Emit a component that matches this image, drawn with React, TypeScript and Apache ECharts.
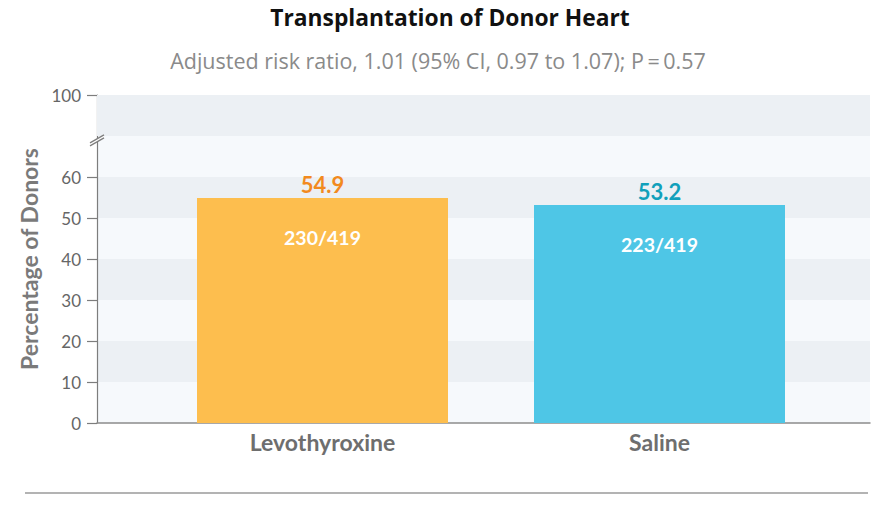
import React, { useEffect, useRef } from "react";
import * as echarts from "echarts";

const categories = ["Levothyroxine", "Saline"];
const percentages = [54.9, 53.2];
const counts = ["230/419", "223/419"];
const barColors = ["#fdbe4e", "#4ec6e6"];
const valueColors = ["#f28a1e", "#11a0bb"];
const tickValues = [0, 10, 20, 30, 40, 50, 60, 80];
const tickLabels: Record<number, string> = { 0: "0", 10: "10", 20: "20", 30: "30", 40: "40", 50: "50", 60: "60", 80: "100" };
const titleText = "Transplantation of Donor Heart";
const subtitleText = "Adjusted risk ratio, 1.01 (95% CI, 0.97 to 1.07); P\u2009=\u20090.57";
const yAxisName = "Percentage of Donors";

const FONT = "Lato, 'Open Sans', sans-serif";
const FONT2 = "'Open Sans', Lato, sans-serif";

export default function App() {
  const ref = useRef<HTMLDivElement>(null);
  useEffect(() => {
    document.body.style.margin = "0";
    if (!ref.current) return;
    const chart = echarts.init(ref.current, undefined, { renderer: "svg" });
    const option: any = {
      animation: false,
      backgroundColor: "#ffffff",
      title: [
        {
          text: titleText,
          left: 445,
          top: 1,
          textAlign: "center",
          textStyle: { fontFamily: FONT2, fontSize: 22.8, fontWeight: "bold", color: "#111" },
        },
        {
          text: subtitleText,
          left: 433,
          top: 44,
          textAlign: "center",
          textStyle: { fontFamily: FONT2, fontSize: 21.5, fontWeight: "normal", color: "#8a8a8a" },
        },
      ],
      grid: [
        { left: 97, right: 22, top: 95, bottom: 83 },
        { left: 154, right: 64, top: 95, bottom: 83 },
      ],
      xAxis: [
        {
          gridIndex: 0,
          type: "category",
          data: ["", ""],
          axisLine: { show: true, lineStyle: { color: "#8c8c8c", width: 1.5 } },
          axisTick: { show: false },
          axisLabel: { show: false },
        },
        {
          gridIndex: 1,
          type: "category",
          data: categories,
          axisLine: { show: false },
          axisTick: { show: false },
          axisLabel: {
            margin: 7,
            fontFamily: FONT,
            fontSize: 23,
            fontWeight: "bold",
            color: "#6e6e6e",
          },
        },
      ],
      yAxis: [
        {
          gridIndex: 0,
          type: "value",
          min: 0,
          max: 80,
          interval: 10,
          name: yAxisName,
          nameLocation: "middle",
          nameGap: 46,
          nameTextStyle: { fontFamily: FONT, fontSize: 23, fontWeight: "bold", color: "#7a7a7a" },
          axisLine: { show: true, lineStyle: { color: "#7d7d7d", width: 1.2 } },
          axisTick: { show: true, length: 10, customValues: tickValues, lineStyle: { color: "#7d7d7d", width: 1.2 } },
          axisLabel: {
            customValues: tickValues,
            margin: 16,
            fontFamily: FONT,
            fontSize: 17,
            color: "#666",
            formatter: (v: number) => tickLabels[v] ?? "",
          },
          splitLine: { show: false },
          splitArea: { show: true, areaStyle: { color: ["#f6f9fc", "#ecf0f4"] } },
        },
        {
          gridIndex: 1,
          type: "value",
          min: 0,
          max: 80,
          show: false,
          splitLine: { show: false },
        },
      ],
      series: [
        {
          type: "line",
          xAxisIndex: 0,
          yAxisIndex: 0,
          data: [null, null],
          showSymbol: false,
          silent: true,
          lineStyle: { opacity: 0 },
          markArea: {
            silent: true,
            itemStyle: { color: "#ecf0f4" },
            data: [[{ yAxis: 70 }, { yAxis: 80 }]],
          },
        },
        {
          type: "bar",
          xAxisIndex: 1,
          yAxisIndex: 1,
          barWidth: 251,
          data: percentages.map((v, i) => ({
            value: v,
            itemStyle: { color: barColors[i] },
            label: { color: valueColors[i] },
          })),
          label: {
            show: true,
            position: "top",
            distance: 2,
            fontFamily: FONT,
            fontSize: 22,
            fontWeight: "bold",
            formatter: (p: any) => p.value.toFixed(1),
          },
        },
        {
          type: "bar",
          xAxisIndex: 1,
          yAxisIndex: 1,
          barWidth: 251,
          barGap: "-100%",
          silent: true,
          itemStyle: { color: "rgba(0,0,0,0)" },
          data: percentages,
          label: {
            show: true,
            position: "insideTop",
            distance: 30,
            fontFamily: FONT,
            fontSize: 19.5,
            fontWeight: "bold",
            color: "#ffffff",
            formatter: (p: any) => counts[p.dataIndex],
          },
        },
      ],
    };
    chart.setOption(option);

    const yb = chart.convertToPixel({ yAxisIndex: 0 }, 69.3) as number;
    const ax = 97;
    chart.setOption({
      graphic: [
        {
          type: "polygon",
          shape: { points: [[ax - 7, yb + 4], [ax + 7, yb - 4], [ax + 7, yb - 1], [ax - 7, yb + 7]] },
          style: { fill: "#ffffff" },
          z: 100,
        },
        {
          type: "line",
          shape: { x1: ax - 7, y1: yb + 4, x2: ax + 7, y2: yb - 4 },
          style: { stroke: "#7d7d7d", lineWidth: 1.2 },
          z: 101,
        },
        {
          type: "line",
          shape: { x1: ax - 7, y1: yb + 7, x2: ax + 7, y2: yb - 1 },
          style: { stroke: "#7d7d7d", lineWidth: 1.2 },
          z: 101,
        },
        {
          type: "line",
          shape: { x1: 25, y1: 493, x2: 868, y2: 493 },
          style: { stroke: "#9a9a9a", lineWidth: 1.5 },
        },
      ],
    });
    return () => chart.dispose();
  }, []);
  return <div ref={ref} style={{ width: 892, height: 506 }} />;
}
